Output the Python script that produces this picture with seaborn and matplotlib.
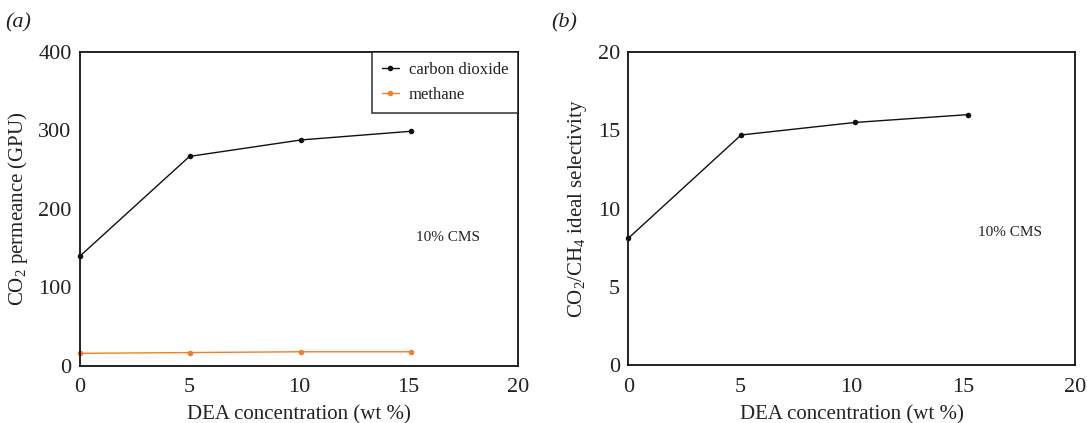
import matplotlib
matplotlib.use("Agg")
import matplotlib.pyplot as plt
import seaborn as sns
import pandas as pd

# Data
dea_a = [0, 5, 10.1, 15.1]
co2_perm = [140, 267, 288, 299]
ch4_perm = [16, 17, 18, 18]
dea_b = [0, 5.05, 10.15, 15.2]
selectivity = [8.1, 14.7, 15.5, 16.0]
xticks = [0, 5, 10, 15, 20]
yticks_a = [0, 100, 200, 300, 400]
yticks_b = [0, 5, 10, 15, 20]

sns.set_theme(style="white")
plt.rcParams['font.family'] = ['Liberation Serif', 'DejaVu Serif']
plt.rcParams['mathtext.fontset'] = 'custom'
plt.rcParams['mathtext.rm'] = 'Liberation Serif'
plt.rcParams['mathtext.it'] = 'Liberation Serif:italic'

fig = plt.figure(figsize=(10.87, 4.23), dpi=100)
axa = fig.add_axes([0.0736, 0.135, 0.403, 0.742])
axb = fig.add_axes([0.578, 0.137, 0.411, 0.740])

df_a = pd.DataFrame({
    "x": dea_a + dea_a,
    "y": co2_perm + ch4_perm,
    "gas": ["carbon dioxide"] * 4 + ["methane"] * 4,
})
sns.lineplot(data=df_a, x="x", y="y", hue="gas", palette=["#111111", "#f07f2a"],
             marker="o", markersize=4, markeredgewidth=0, linewidth=1.0, ax=axa,
             clip_on=False)
df_b = pd.DataFrame({"x": dea_b, "y": selectivity})
sns.lineplot(data=df_b, x="x", y="y", color="#111111", marker="o", markersize=4,
             markeredgewidth=0, linewidth=1.0, ax=axb, clip_on=False)

for ax, yt in [(axa, yticks_a), (axb, yticks_b)]:
    ax.set_xlim(0, 20)
    ax.set_ylim(yt[0], yt[-1])
    ax.set_xticks(xticks)
    ax.set_yticks(yt)
    ax.tick_params(axis="y", length=0, labelsize=16, pad=6, colors="#222222")
    ax.tick_params(axis="x", length=0, labelsize=16, pad=9, colors="#222222")
    for s in ax.spines.values():
        s.set_color("#111111")
        s.set_linewidth(1.3)
    ax.set_xlabel("DEA concentration (wt %)", fontsize=15, color="#222222", labelpad=6)

axa.set_ylabel(r"CO$_2$ permeance (GPU)", fontsize=15, color="#222222", labelpad=6)
axb.set_ylabel(r"CO$_2$/CH$_4$ ideal selectivity", fontsize=15, color="#222222", labelpad=6)

leg = axa.legend(loc="upper right", bbox_to_anchor=(1, 1), borderaxespad=0, fontsize=12,
                 frameon=True, fancybox=False, edgecolor="#111111", handlelength=1.0,
                 borderpad=0.6, labelspacing=0.55, handletextpad=0.6)
leg.get_frame().set_linewidth(1.2)
for t in leg.get_texts():
    t.set_color("#222222")

axa.text(16.8, 164, "10% CMS", fontsize=11, ha="center", va="center", color="#222222")
axb.text(17.1, 8.5, "10% CMS", fontsize=11, ha="center", va="center", color="#222222")

fig.text(0.005, 0.935, "(a)", fontsize=16, style="italic", color="#222222")
fig.text(0.507, 0.935, "(b)", fontsize=16, style="italic", color="#222222")

fig.savefig("out.png", dpi=100)
